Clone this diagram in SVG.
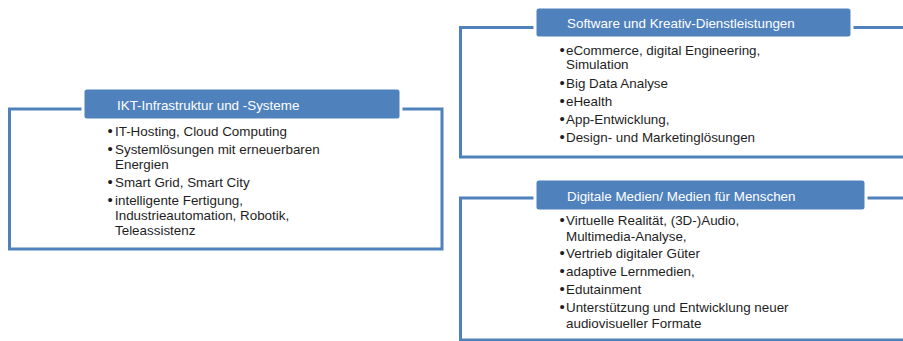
<svg xmlns="http://www.w3.org/2000/svg" width="903" height="341" viewBox="0 0 903 341">
<style>
.frame{fill:#FFFFFF;stroke:#4F81BD;stroke-width:3}
.head{fill:#4F81BD;stroke:#FFFFFF;stroke-width:3}
.title{font-family:"Liberation Sans",Arial,sans-serif;font-size:13.4px;fill:#FFFFFF}
.item{font-family:"Liberation Sans",Arial,sans-serif;font-size:13.4px;fill:#1E1E1E}
.b{font-size:15px}
</style>
<rect width="903" height="341" fill="#FFFFFF"/>
<g id="connectors"/>
<g id="node-ikt">
<rect class="frame" x="9.5" y="109" width="432.5" height="140"/>
<rect class="head" x="83" y="88" width="318" height="32" rx="4"/>
<text class="title" x="117" y="109.5">IKT-Infrastruktur und -Systeme</text>
<text class="item"><tspan class="b" x="107.5" y="135.5">•</tspan><tspan x="115">IT-Hosting, Cloud Computing</tspan></text>
<text class="item"><tspan class="b" x="107.5" y="153.5">•</tspan><tspan x="115">Systemlösungen mit erneuerbaren</tspan></text>
<text class="item" x="115" y="168.5">Energien</text>
<text class="item"><tspan class="b" x="107.5" y="186.5">•</tspan><tspan x="115">Smart Grid, Smart City</tspan></text>
<text class="item"><tspan class="b" x="107.5" y="204.5">•</tspan><tspan x="115">intelligente Fertigung,</tspan></text>
<text class="item" x="115" y="219.5">Industrieautomation, Robotik,</text>
<text class="item" x="115" y="235">Teleassistenz</text>
</g>
<g id="node-software">
<rect class="frame" x="460.5" y="27.5" width="460" height="129.5"/>
<rect class="head" x="535" y="7" width="317" height="31" rx="4"/>
<text class="title" x="567" y="27.5">Software und Kreativ-Dienstleistungen</text>
<text class="item"><tspan class="b" x="559.5" y="54.5">•</tspan><tspan x="566">eCommerce, digital Engineering,</tspan></text>
<text class="item" x="566" y="69">Simulation</text>
<text class="item"><tspan class="b" x="559.5" y="87.5">•</tspan><tspan x="566">Big Data Analyse</tspan></text>
<text class="item"><tspan class="b" x="559.5" y="105.5">•</tspan><tspan x="566">eHealth</tspan></text>
<text class="item"><tspan class="b" x="559.5" y="123.5">•</tspan><tspan x="566">App-Entwicklung,</tspan></text>
<text class="item"><tspan class="b" x="559.5" y="141.5">•</tspan><tspan x="566">Design- und Marketinglösungen</tspan></text>
</g>
<g id="node-medien">
<rect class="frame" x="460.5" y="198" width="460" height="142"/>
<rect class="head" x="535" y="179" width="331" height="32" rx="4"/>
<text class="title" x="567" y="200.5">Digitale Medien/ Medien für Menschen</text>
<text class="item"><tspan class="b" x="559.5" y="225">•</tspan><tspan x="566">Virtuelle Realität, (3D-)Audio,</tspan></text>
<text class="item" x="566" y="240.5">Multimedia-Analyse,</text>
<text class="item"><tspan class="b" x="559.5" y="258">•</tspan><tspan x="566">Vertrieb digitaler Güter</tspan></text>
<text class="item"><tspan class="b" x="559.5" y="276">•</tspan><tspan x="566">adaptive Lernmedien,</tspan></text>
<text class="item"><tspan class="b" x="559.5" y="294">•</tspan><tspan x="566">Edutainment</tspan></text>
<text class="item"><tspan class="b" x="559.5" y="312">•</tspan><tspan x="566">Unterstützung und Entwicklung neuer</tspan></text>
<text class="item" x="566" y="327.5">audiovisueller Formate</text>
</g>
</svg>
